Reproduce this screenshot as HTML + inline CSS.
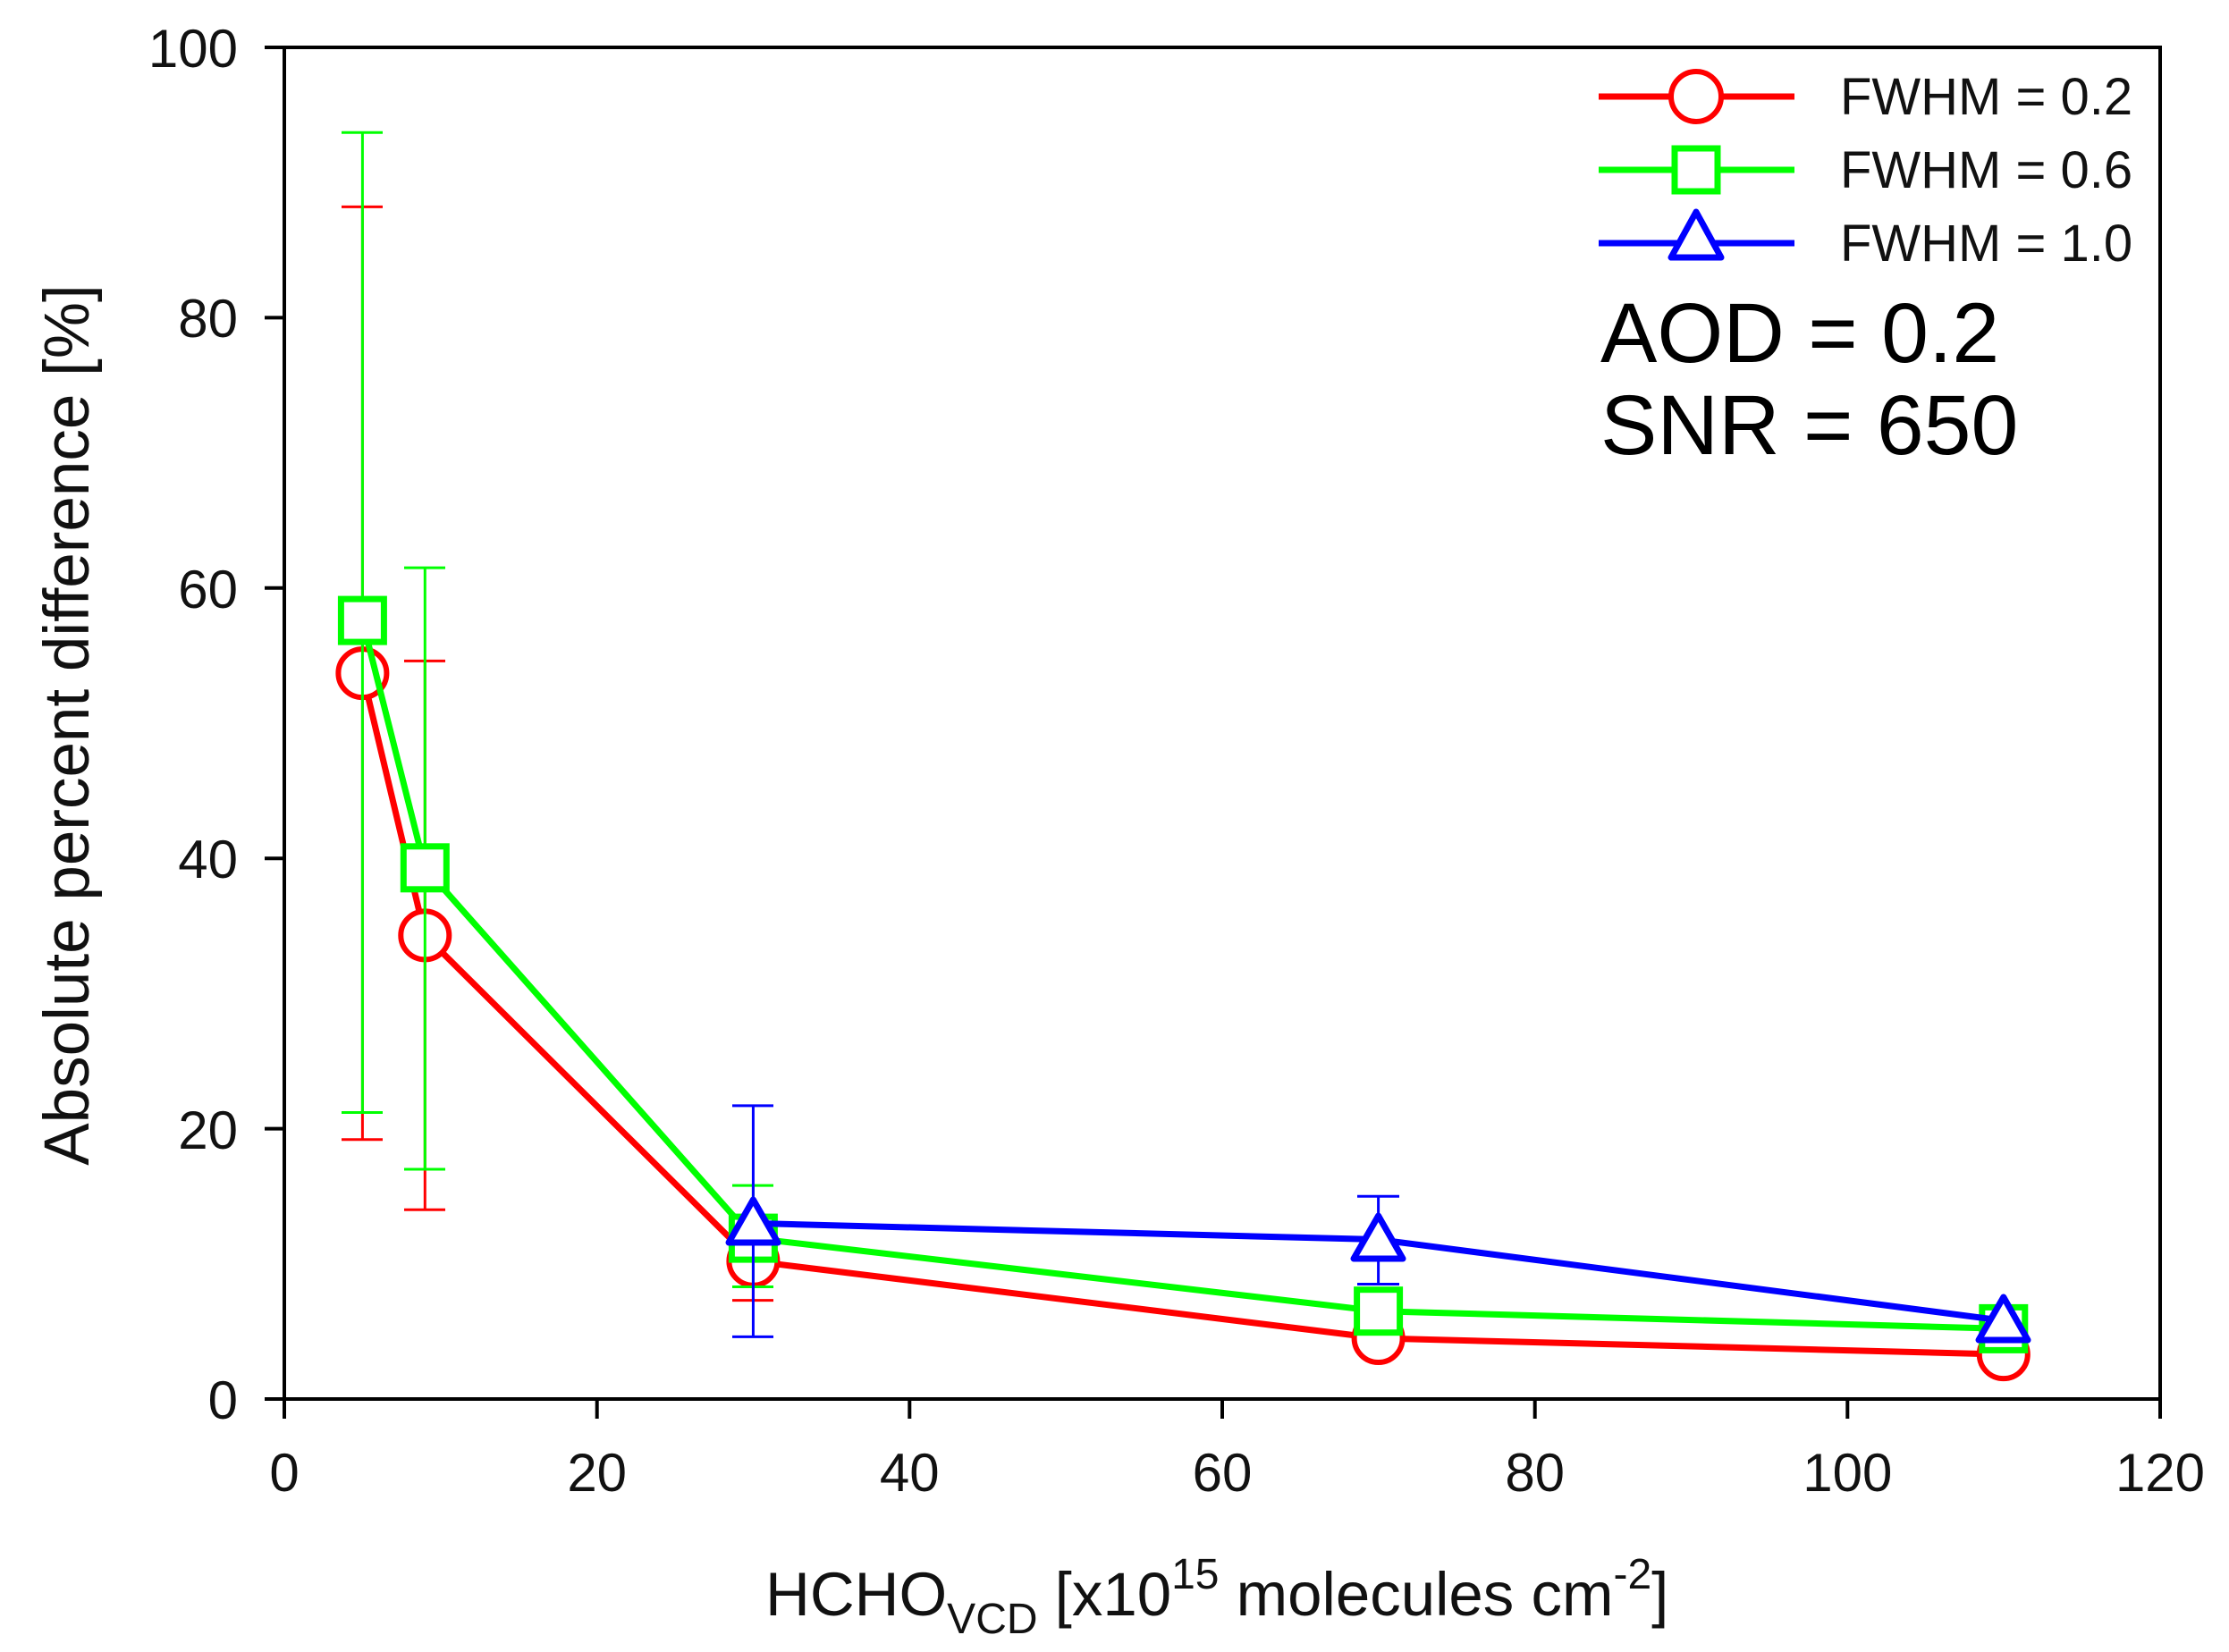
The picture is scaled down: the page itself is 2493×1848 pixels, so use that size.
<!DOCTYPE html>
<html><head><meta charset="utf-8"><style>body{margin:0;background:#fff}svg{display:block}</style></head>
<body>
<svg width="2493" height="1848" viewBox="0 0 2493 1848" xmlns="http://www.w3.org/2000/svg" font-family="Liberation Sans, Arial, sans-serif">
<rect width="2493" height="1848" fill="#fff"/>
<rect x="318" y="53" width="2098" height="1512" fill="none" stroke="#000" stroke-width="4"/>
<g stroke="#000" stroke-width="4">
<line x1="296" y1="53" x2="318" y2="53"/><line x1="296" y1="355.4" x2="318" y2="355.4"/><line x1="296" y1="657.8" x2="318" y2="657.8"/><line x1="296" y1="960.2" x2="318" y2="960.2"/><line x1="296" y1="1262.6" x2="318" y2="1262.6"/><line x1="296" y1="1565" x2="318" y2="1565"/>
<line x1="318" y1="1565" x2="318" y2="1587"/><line x1="667.7" y1="1565" x2="667.7" y2="1587"/><line x1="1017.3" y1="1565" x2="1017.3" y2="1587"/><line x1="1367" y1="1565" x2="1367" y2="1587"/><line x1="1716.7" y1="1565" x2="1716.7" y2="1587"/><line x1="2066.3" y1="1565" x2="2066.3" y2="1587"/><line x1="2416" y1="1565" x2="2416" y2="1587"/>
</g>
<g font-size="60" text-anchor="end" fill="#111">
<text x="266" y="75">100</text><text x="266" y="377">80</text><text x="266" y="680">60</text><text x="266" y="982">40</text><text x="266" y="1285">20</text><text x="266" y="1587">0</text>
</g>
<g font-size="60" text-anchor="middle" fill="#111">
<text x="318" y="1668">0</text><text x="667.7" y="1668">20</text><text x="1017.3" y="1668">40</text><text x="1367" y="1668">60</text><text x="1716.7" y="1668">80</text><text x="2066.3" y="1668">100</text><text x="2416" y="1668">120</text>
</g>
<text x="856" y="1807" font-size="69" fill="#111">HCHO<tspan font-size="48" dy="20">VCD</tspan><tspan dy="-20"> [x10</tspan><tspan font-size="48" dy="-30">15</tspan><tspan dy="30"> molecules cm</tspan><tspan font-size="48" dy="-30">-2</tspan><tspan dy="30">]</tspan></text>
<text transform="translate(99,811) rotate(-90)" font-size="71" text-anchor="middle" fill="#111">Absolute percent difference [%]</text>

<g stroke="#ff0000" stroke-width="3" fill="none">
<line x1="405.4" y1="231.4" x2="405.4" y2="1274.7"/><line x1="382" y1="231.4" x2="428" y2="231.4"/><line x1="382" y1="1274.7" x2="428" y2="1274.7"/>
<line x1="475.3" y1="739.4" x2="475.3" y2="1353.3"/><line x1="452" y1="739.4" x2="498" y2="739.4"/><line x1="452" y1="1353.3" x2="498" y2="1353.3"/>
<line x1="842.4" y1="1363.9" x2="842.4" y2="1454.6"/><line x1="819" y1="1454.6" x2="865" y2="1454.6"/>
</g>
<polyline points="405.4,753.1 475.3,1046.4 842.4,1410.8 1541.6,1497 2240.8,1515.1" fill="none" stroke="#ff0000" stroke-width="7"/>
<g fill="#fff" stroke="#ff0000" stroke-width="6">
<circle cx="405.4" cy="753.1" r="27"/><circle cx="475.3" cy="1046.4" r="27"/><circle cx="842.4" cy="1410.8" r="27"/><circle cx="1541.6" cy="1497" r="27"/><circle cx="2240.8" cy="1515.1" r="27"/>
</g>
<g stroke="#00ff00" stroke-width="3" fill="none">
<line x1="405.4" y1="148.2" x2="405.4" y2="1244.5"/><line x1="382" y1="148.2" x2="428" y2="148.2"/><line x1="382" y1="1244.5" x2="428" y2="1244.5"/>
<line x1="475.3" y1="635.1" x2="475.3" y2="1308"/><line x1="452" y1="635.1" x2="498" y2="635.1"/><line x1="452" y1="1308" x2="498" y2="1308"/>
<line x1="842.4" y1="1326.1" x2="842.4" y2="1439.5"/><line x1="819" y1="1326.1" x2="865" y2="1326.1"/><line x1="819" y1="1439.5" x2="865" y2="1439.5"/>
</g>
<polyline points="405.4,694.1 475.3,970.8 842.4,1385.1 1541.6,1466.7 2240.8,1486.4" fill="none" stroke="#00ff00" stroke-width="7"/>
<g fill="#fff" stroke="#00ff00" stroke-width="7">
<rect x="381.4" y="670.1" width="48" height="48"/><rect x="451.3" y="946.8" width="48" height="48"/><rect x="818.4" y="1361.1" width="48" height="48"/><rect x="1517.6" y="1442.7" width="48" height="48"/><rect x="2216.8" y="1462.4" width="48" height="48"/>
</g>
<g stroke="#0000ff" stroke-width="3" fill="none">
<line x1="842.4" y1="1236.9" x2="842.4" y2="1495.4"/><line x1="819" y1="1236.9" x2="865" y2="1236.9"/><line x1="819" y1="1495.4" x2="865" y2="1495.4"/>
<line x1="1541.6" y1="1338.2" x2="1541.6" y2="1436.5"/><line x1="1518" y1="1338.2" x2="1565" y2="1338.2"/><line x1="1518" y1="1436.5" x2="1565" y2="1436.5"/>
</g>
<polyline points="842.4,1368.4 1541.6,1386.6 2240.8,1477.3" fill="none" stroke="#0000ff" stroke-width="7"/>
<g fill="#fff" stroke="#0000ff" stroke-width="7" stroke-linejoin="round">
<polygon points="842.4,1342 815,1390 870,1390"/><polygon points="1541.6,1360 1514,1408 1569,1408"/><polygon points="2240.8,1451 2213,1499 2268,1499"/>
</g>
<line x1="1788" y1="108" x2="2007" y2="108" stroke="#ff0000" stroke-width="7"/>
<circle cx="1897" cy="108" r="28" fill="#fff" stroke="#ff0000" stroke-width="6"/>
<line x1="1788" y1="190" x2="2007" y2="190" stroke="#00ff00" stroke-width="7"/>
<rect x="1873" y="166" width="48" height="48" fill="#fff" stroke="#00ff00" stroke-width="7"/>
<line x1="1788" y1="272" x2="2007" y2="272" stroke="#0000ff" stroke-width="7"/>
<polygon points="1897,237 1869,288 1925,288" fill="#fff" stroke="#0000ff" stroke-width="7" stroke-linejoin="round"/>
<g font-size="58" fill="#111">
<text x="2058" y="128">FWHM = 0.2</text><text x="2058" y="210">FWHM = 0.6</text><text x="2058" y="292">FWHM = 1.0</text>
</g>
<g font-size="95" fill="#000">
<text x="1790" y="405">AOD = 0.2</text><text x="1790" y="508">SNR = 650</text>
</g>
</svg>
</body></html>
